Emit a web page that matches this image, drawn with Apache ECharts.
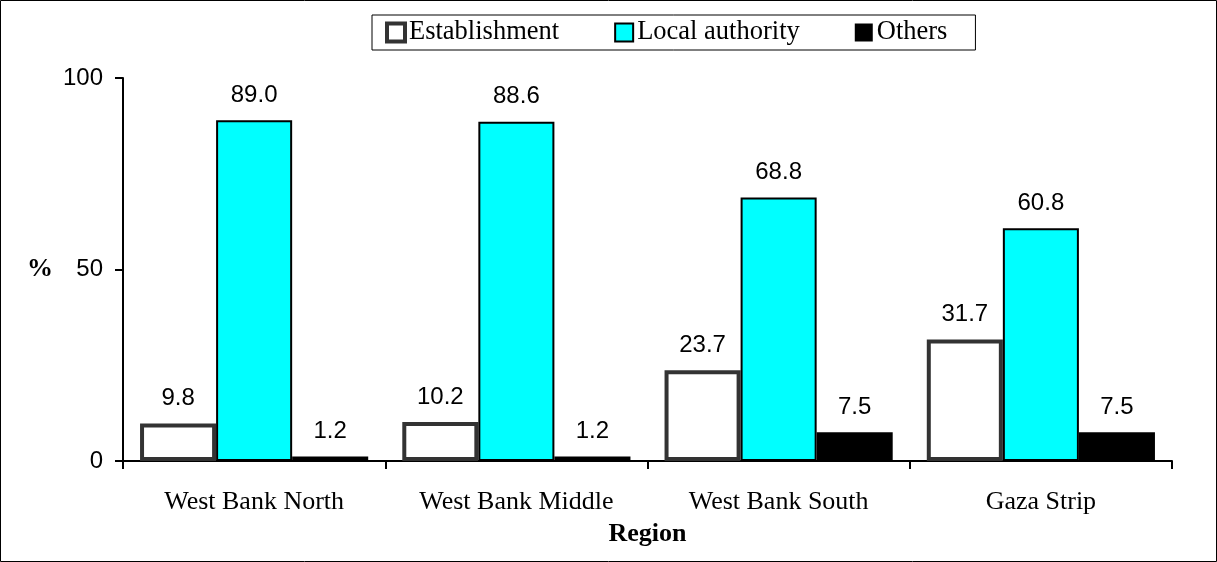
<!DOCTYPE html>
<html>
<head>
<meta charset="utf-8">
<script src="https://cdn.jsdelivr.net/npm/echarts@6/dist/echarts.min.js"></script>
<style>
  html, body { margin: 0; padding: 0; background: #fff; }
  #main { width: 1217px; height: 562px; }
</style>
</head>
<body>
<div id="main"></div>
<script>
var regions = ['West Bank North', 'West Bank Middle', 'West Bank South', 'Gaza Strip']
var establishment = [9.8, 10.2, 23.7, 31.7]
var localAuthority = [89.0, 88.6, 68.8, 60.8]
var others = [1.2, 1.2, 7.5, 7.5]
var yTicks = [0, 50, 100]

var serif = 'Liberation Serif, Times New Roman, serif'
var sans = 'Liberation Sans, Arial, sans-serif'

var chart = echarts.init(document.getElementById('main'))

var labelStyle = {
  show: true,
  position: 'top',
  distance: 13,
  fontFamily: sans,
  fontSize: 24,
  color: '#000',
  formatter: function (p) { return p.value.toFixed(1) }
}

var option = {
  animation: false,
  backgroundColor: '#fff',
  graphic: [
    {
      type: 'rect',
      shape: { x: 0.5, y: 0.5, width: 1216, height: 561 },
      style: { fill: 'none', stroke: '#000', lineWidth: 1 }
    }
  ],
  legend: {
    top: 15,
    left: 372,
    padding: [4, 28, 4, 13],
    itemGap: 55,
    itemWidth: 18,
    itemHeight: 18,
    borderColor: '#000',
    borderWidth: 1,
    icon: 'rect',
    textStyle: {
      fontFamily: serif,
      fontSize: 26.5,
      color: '#000',
      padding: [0, 0, 0, -1]
    },
    data: [
      { name: 'Establishment', itemStyle: { color: '#fff', borderColor: '#333', borderWidth: 4 } },
      { name: 'Local authority', itemStyle: { color: '#00ffff', borderColor: '#000', borderWidth: 2 } },
      { name: 'Others', itemStyle: { color: '#000', borderColor: '#000', borderWidth: 0 } }
    ]
  },
  grid: {
    left: 123,
    right: 45,
    top: 78,
    bottom: 101
  },
  xAxis: {
    type: 'category',
    data: regions,
    name: 'Region',
    nameLocation: 'middle',
    nameGap: 60,
    nameTextStyle: {
      fontFamily: serif,
      fontSize: 26,
      fontWeight: 'bold',
      color: '#000'
    },
    axisLine: { lineStyle: { color: '#000', width: 2 } },
    axisTick: { show: true, length: 8, lineStyle: { color: '#000', width: 2 } },
    axisLabel: {
      margin: 28,
      fontFamily: serif,
      fontSize: 26,
      color: '#000'
    }
  },
  yAxis: {
    type: 'value',
    min: yTicks[0],
    max: yTicks[yTicks.length - 1],
    interval: 50,
    name: '%',
    nameLocation: 'middle',
    nameRotate: 0,
    nameGap: 70,
    nameTextStyle: {
      fontFamily: serif,
      fontSize: 26,
      fontWeight: 'bold',
      color: '#000'
    },
    axisLine: { show: true, lineStyle: { color: '#000', width: 2 } },
    axisTick: { show: true, length: 8, lineStyle: { color: '#000', width: 2 } },
    splitLine: { show: false },
    axisLabel: {
      margin: 20,
      fontFamily: sans,
      fontSize: 24,
      color: '#000'
    }
  },
  series: [
    {
      name: 'Establishment',
      type: 'bar',
      data: establishment,
      barGap: '0%',
      barCategoryGap: '13%',
      itemStyle: { color: '#fff', borderColor: '#333', borderWidth: 4 },
      label: labelStyle
    },
    {
      name: 'Local authority',
      type: 'bar',
      data: localAuthority,
      barGap: '0%',
      barCategoryGap: '13%',
      itemStyle: { color: '#00ffff', borderColor: '#000', borderWidth: 2 },
      label: labelStyle
    },
    {
      name: 'Others',
      type: 'bar',
      data: others,
      barGap: '0%',
      barCategoryGap: '13%',
      itemStyle: { color: '#000', borderColor: '#000', borderWidth: 0 },
      label: labelStyle
    }
  ]
}

chart.setOption(option)
</script>
</body>
</html>
